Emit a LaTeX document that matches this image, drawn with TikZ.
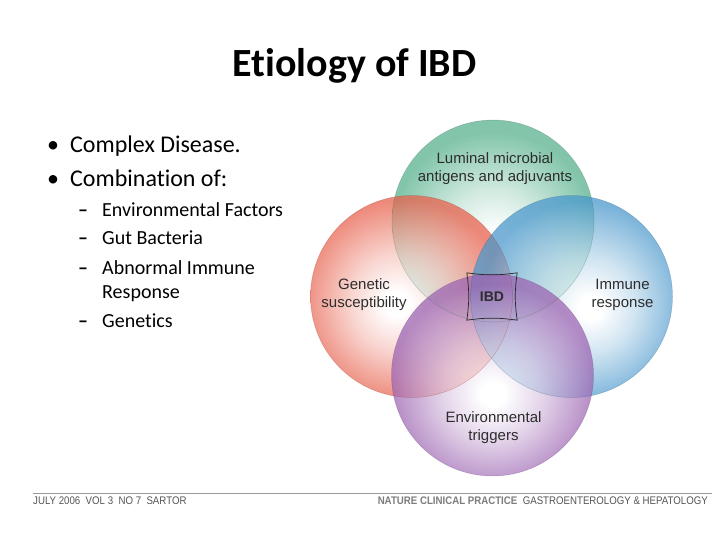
\documentclass[tikz,border=0pt]{standalone}
\usepackage{fontspec}
\setmainfont{Carlito}[Ligatures={NoCommon}]
\newfontfamily\labelfont{Liberation Sans}
\newfontfamily\footfont[FakeStretch=0.88]{Liberation Sans}
\usetikzlibrary{positioning}
\definecolor{lumgreen}{RGB}{88,178,142}
\definecolor{genred}{RGB}{232,96,76}
\definecolor{immblue}{RGB}{74,152,204}
\definecolor{envpurple}{RGB}{156,100,178}
\definecolor{labelgray}{RGB}{45,45,45}
\definecolor{footdark}{RGB}{85,85,85}
\definecolor{footlight}{RGB}{125,125,125}
\pgfdeclareradialshading{greenglow}{\pgfpoint{0bp}{-6bp}}{color(0bp)=(white); color(3bp)=(white); color(12bp)=(lumgreen!35); color(20bp)=(lumgreen!75); color(25bp)=(lumgreen); color(50bp)=(lumgreen)}
\pgfdeclareradialshading{redglow}{\pgfpoint{-4bp}{-2bp}}{color(0bp)=(white); color(3bp)=(white); color(12bp)=(genred!35); color(20bp)=(genred!75); color(25bp)=(genred); color(50bp)=(genred)}
\pgfdeclareradialshading{blueglow}{\pgfpoint{5bp}{-3bp}}{color(0bp)=(white); color(3bp)=(white); color(12bp)=(immblue!35); color(20bp)=(immblue!75); color(25bp)=(immblue); color(50bp)=(immblue)}
\pgfdeclareradialshading{purpleglow}{\pgfpoint{0bp}{-5bp}}{color(0bp)=(white); color(3bp)=(white); color(12bp)=(envpurple!35); color(20bp)=(envpurple!75); color(25bp)=(envpurple); color(50bp)=(envpurple)}
\tikzset{
  slidetitle/.style={font=\bfseries\fontsize{40}{48}\selectfont,anchor=base,inner sep=0pt},
  bullet/.style={font=\fontsize{24}{29}\selectfont,anchor=base west,inner sep=0pt},
  subbullet/.style={font=\fontsize{20}{24}\selectfont,anchor=base west,inner sep=0pt},
  vennlabel/.style={font=\labelfont\fontsize{15}{18}\selectfont,text=labelgray,align=center},
  venndisc/.style={fill opacity=0.74},
  vennrim/.style={line width=0.5pt,draw opacity=0.3},
  ibdlabel/.style={font=\labelfont\bfseries\fontsize{14}{17}\selectfont,text=labelgray,minimum width=50pt,minimum height=47pt,inner sep=0pt},
  ibdframe/.style={draw=black!85,line width=0.7pt,line join=round},
  footline/.style={draw=black!40,line width=0.7pt},
  foottext/.style={font=\footfont\fontsize{11}{13}\selectfont,inner sep=0pt}
}
\begin{document}
\begin{tikzpicture}[x=1pt,y=-1pt]
  \useasboundingbox[fill=white] (0,0) rectangle (720,540);

  \node[slidetitle] (title) at (354.5,77) {Etiology of IBD};

  % bullet list
  \node[bullet] (b1) at (47,153) {•};
  \node[bullet] (t1) at (70,153) {Complex Disease.};
  \node[bullet] (b2) at (47,187) {•};
  \node[bullet] (t2) at (70,187) {Combination of:};
  \node[subbullet] (d1) at (78,216) {\bfseries –};
  \node[subbullet] (s1) at (102,216) {Environmental Factors};
  \node[subbullet] (d2) at (78,244.5) {\bfseries –};
  \node[subbullet] (s2) at (102,244.5) {Gut Bacteria};
  \node[subbullet] (d3) at (78,274.5) {\bfseries –};
  \node[subbullet] (s3) at (102,274.5) {Abnormal Immune};
  \node[subbullet] (s3b) at (102,298.5) {Response};
  \node[subbullet] (d4) at (78,327.5) {\bfseries –};
  \node[subbullet] (s4) at (102,327.5) {Genetics};

  % venn circles
  \coordinate (cg) at (493,221);
  \coordinate (cr) at (411.5,296.5);
  \coordinate (cb) at (571.5,296.5);
  \coordinate (cp) at (492.5,375);
  \shade[venndisc,shading=greenglow] (cg) circle[radius=101pt];
  \shade[venndisc,shading=redglow] (cr) circle[radius=101pt];
  \shade[venndisc,shading=blueglow] (cb) circle[radius=101pt];
  \shade[venndisc,shading=purpleglow] (cp) circle[radius=101pt];
  \draw[vennrim,draw=lumgreen!60!black] (cg) circle[radius=101pt];
  \draw[vennrim,draw=genred!60!black] (cr) circle[radius=101pt];
  \draw[vennrim,draw=immblue!60!black] (cb) circle[radius=101pt];
  \draw[vennrim,draw=envpurple!60!black] (cp) circle[radius=101pt];

  \node[vennlabel] (lum) at (495,169) {Luminal microbial\\antigens and adjuvants};
  \node[vennlabel] (gen) at (364,295) {Genetic\\susceptibility};
  \node[vennlabel] (imm) at (622.5,295) {Immune\\response};
  \node[vennlabel] (env) at (493.5,427.5) {Environmental\\triggers};

  \node[ibdlabel] (ibd) at (492,296.5) {IBD};
  \draw[ibdframe] (ibd.north west) to[bend right=8] (ibd.north east)
    to[bend right=8] (ibd.south east) to[bend right=8] (ibd.south west)
    to[bend right=8] (ibd.north west);

  % footer
  \coordinate (fl) at (33,493);
  \coordinate (fr) at (712,493);
  \draw[footline] (fl) -- (fr);
  \node[foottext,anchor=base west,text=footdark] (cite) at (33,504) {JULY 2006\ \ VOL 3\ \ NO 7\ \ SARTOR};
  \node[foottext,anchor=base east,text=footdark] (journal) at (708,504)
    {\textcolor{footlight}{\bfseries NATURE CLINICAL PRACTICE}\ \ GASTROENTEROLOGY \& HEPATOLOGY};
\end{tikzpicture}
\end{document}
